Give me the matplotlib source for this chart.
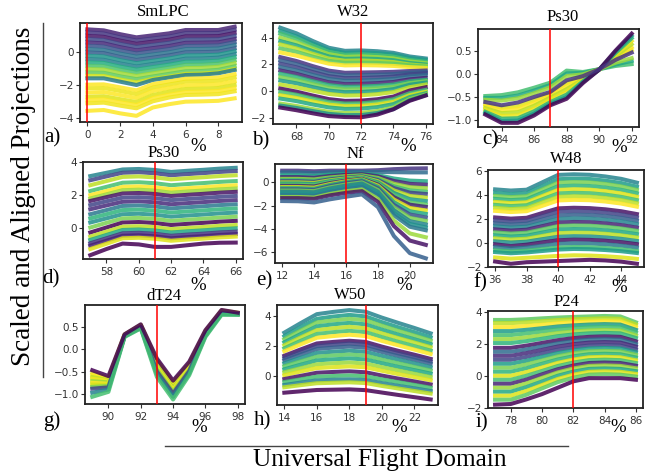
import matplotlib
matplotlib.use("Agg")
import matplotlib.pyplot as plt

# ---------------- data ----------------
X_A = [0, 1, 2, 3, 4, 5, 6, 7, 8, 9]
LINES_A = [
    [1.34, 1.28, 1.05, 0.86, 0.98, 1.10, 1.30, 1.30, 1.30, 1.50],
    [1.15, 1.09, 0.86, 0.67, 0.79, 0.91, 1.11, 1.11, 1.12, 1.31],
    [0.95, 0.89, 0.66, 0.47, 0.60, 0.72, 0.92, 0.92, 0.93, 1.12],
    [0.75, 0.69, 0.46, 0.28, 0.40, 0.53, 0.72, 0.73, 0.74, 0.93],
    [0.55, 0.50, 0.27, 0.08, 0.21, 0.34, 0.53, 0.54, 0.56, 0.75],
    [0.35, 0.30, 0.07, -0.11, 0.02, 0.15, 0.34, 0.35, 0.37, 0.57],
    [0.15, 0.10, -0.12, -0.30, -0.17, -0.04, 0.15, 0.16, 0.19, 0.39],
    [-0.05, -0.09, -0.32, -0.50, -0.36, -0.22, -0.04, -0.03, 0.00, 0.20],
    [-0.25, -0.29, -0.51, -0.69, -0.55, -0.41, -0.23, -0.22, -0.18, 0.02],
    [-0.45, -0.49, -0.71, -0.89, -0.74, -0.60, -0.42, -0.41, -0.36, -0.16],
    [-0.65, -0.68, -0.90, -1.08, -0.93, -0.78, -0.61, -0.60, -0.55, -0.34],
    [-0.85, -0.88, -1.10, -1.27, -1.12, -0.97, -0.80, -0.79, -0.73, -0.52],
    [-1.05, -1.07, -1.29, -1.46, -1.30, -1.15, -0.99, -0.97, -0.91, -0.70],
    [-1.25, -1.27, -1.48, -1.65, -1.49, -1.33, -1.18, -1.16, -1.09, -0.88],
    [-1.45, -1.46, -1.67, -1.84, -1.63, -1.49, -1.33, -1.31, -1.24, -1.03],
    [-1.60, -1.60, -1.80, -2.00, -1.70, -1.55, -1.40, -1.38, -1.30, -1.10],
    [-1.98, -1.96, -2.14, -2.32, -1.95, -1.78, -1.62, -1.60, -1.55, -1.35],
    [-2.20, -2.18, -2.36, -2.55, -2.15, -1.97, -1.80, -1.78, -1.75, -1.55],
    [-2.45, -2.42, -2.60, -2.78, -2.36, -2.18, -2.02, -2.00, -1.97, -1.78],
    [-2.70, -2.67, -2.85, -3.02, -2.60, -2.40, -2.24, -2.22, -2.18, -2.00],
    [-2.90, -2.86, -3.04, -3.20, -2.78, -2.58, -2.42, -2.40, -2.36, -2.20],
    [-3.10, -3.06, -3.24, -3.40, -2.98, -2.75, -2.60, -2.58, -2.55, -2.38],
    [-3.55, -3.50, -3.70, -3.85, -3.35, -3.15, -3.00, -2.98, -2.95, -2.80],
]
COLORS_A = [0.10, 0.16, 0.06, 0.22, 0.12, 0.26, 0.38, 0.30, 0.52, 0.44, 0.62, 0.72,
            0.86, 0.76, 0.93, 0.42, 1.0, 0.97, 1.0, 0.95, 1.0, 0.98, 1.0]

X_B = [67, 68, 69, 70, 71, 72, 73, 74, 75, 76]
LINES_B = [
    [4.75, 4.33, 3.76, 3.25, 3.02, 3.05, 2.99, 2.87, 2.60, 2.45],
    [4.50, 4.10, 3.57, 3.09, 2.87, 2.90, 2.85, 2.74, 2.49, 2.35],
    [4.30, 3.91, 3.40, 2.94, 2.72, 2.75, 2.70, 2.59, 2.34, 2.20],
    [4.00, 3.65, 3.19, 2.77, 2.57, 2.60, 2.55, 2.45, 2.23, 2.10],
    [3.75, 3.43, 3.00, 2.61, 2.42, 2.45, 2.41, 2.32, 2.11, 2.00],
    [3.50, 3.20, 2.80, 2.44, 2.28, 2.30, 2.26, 2.18, 2.00, 1.90],
    [3.20, 2.94, 2.59, 2.28, 2.13, 2.15, 2.12, 2.06, 1.93, 1.85],
    [2.90, 2.66, 2.35, 2.06, 1.93, 1.95, 1.93, 1.89, 1.80, 1.75],
    [2.55, 2.26, 1.88, 1.54, 1.38, 1.40, 1.42, 1.45, 1.51, 1.55],
    [2.30, 2.03, 1.66, 1.33, 1.18, 1.20, 1.23, 1.28, 1.39, 1.45],
    [2.05, 1.79, 1.44, 1.13, 0.98, 1.00, 1.04, 1.11, 1.26, 1.35],
    [1.80, 1.55, 1.22, 0.92, 0.78, 0.80, 0.84, 0.92, 1.10, 1.20],
    [1.55, 1.30, 0.97, 0.67, 0.53, 0.55, 0.60, 0.69, 0.89, 1.00],
    [1.30, 1.06, 0.75, 0.46, 0.33, 0.35, 0.40, 0.50, 0.73, 0.85],
    [1.05, 0.83, 0.53, 0.26, 0.13, 0.15, 0.21, 0.33, 0.60, 0.75],
    [0.80, 0.59, 0.31, 0.05, -0.07, -0.05, 0.02, 0.16, 0.48, 0.65],
    [0.50, 0.30, 0.04, -0.20, -0.32, -0.30, -0.22, -0.06, 0.30, 0.50],
    [0.20, -0.03, -0.32, -0.59, -0.72, -0.70, -0.60, -0.40, 0.05, 0.30],
    [-0.05, -0.26, -0.54, -0.80, -0.92, -0.90, -0.80, -0.60, -0.15, 0.10],
    [-0.30, -0.50, -0.76, -1.00, -1.12, -1.10, -0.99, -0.79, -0.31, -0.05],
    [-0.55, -0.74, -0.99, -1.21, -1.32, -1.30, -1.19, -0.96, -0.44, -0.15],
    [-0.92, -1.10, -1.33, -1.54, -1.63, -1.62, -1.48, -1.21, -0.59, -0.25],
    [-1.07, -1.25, -1.48, -1.69, -1.79, -1.78, -1.63, -1.34, -0.67, -0.30],
    [-1.22, -1.42, -1.65, -1.86, -1.93, -1.95, -1.75, -1.35, -0.72, -0.32],
]
COLORS_B = [0.45, 0.55, 0.70, 0.85, 0.60, 0.90, 0.75, 1.00, 0.15, 0.30, 0.20, 0.35,
            0.10, 0.65, 0.80, 0.55, 0.90, 0.02, 0.70, 0.95, 0.60, 0.85, 0.50, 0.00]

X_C = [83, 84, 85, 86, 87, 88, 89, 90, 91, 92]
LINES_C = [
    [-0.48, -0.46, -0.40, -0.30, -0.19, 0.07, 0.04, 0.10, 0.17, 0.21],
    [-0.52, -0.52, -0.47, -0.36, -0.24, 0.01, 0.02, 0.10, 0.20, 0.28],
    [-0.56, -0.58, -0.53, -0.42, -0.29, -0.05, -0.01, 0.10, 0.24, 0.34],
    [-0.66, -0.73, -0.70, -0.57, -0.41, -0.20, -0.07, 0.10, 0.32, 0.51],
    [-0.70, -0.79, -0.76, -0.63, -0.46, -0.27, -0.09, 0.09, 0.35, 0.57],
    [-0.74, -0.85, -0.83, -0.69, -0.51, -0.33, -0.12, 0.09, 0.38, 0.64],
    [-0.78, -0.91, -0.90, -0.75, -0.56, -0.39, -0.14, 0.09, 0.42, 0.71],
    [-0.82, -0.97, -0.96, -0.81, -0.61, -0.45, -0.16, 0.09, 0.45, 0.77],
    [-0.85, -1.02, -1.01, -0.86, -0.65, -0.50, -0.18, 0.09, 0.48, 0.82],
    [-0.88, -1.06, -1.06, -0.90, -0.68, -0.54, -0.20, 0.09, 0.50, 0.87],
    [-0.61, -0.68, -0.62, -0.50, -0.39, -0.14, -0.05, 0.10, 0.30, 0.46],
]
COLORS_C = [0.70, 0.60, 0.85, 0.95, 1.00, 0.90, 0.97, 0.65, 0.55, 0.00, 0.15]

X_D = [57, 58, 59, 60, 61, 62, 63, 64, 65, 66]
LINES_D = [
    [3.15, 3.35, 3.55, 3.58, 3.52, 3.40, 3.47, 3.53, 3.60, 3.65],
    [2.90, 3.13, 3.35, 3.38, 3.32, 3.20, 3.27, 3.33, 3.40, 3.45],
    [2.60, 2.85, 3.10, 3.13, 3.07, 2.95, 3.02, 3.08, 3.15, 3.20],
    [2.25, 2.50, 2.75, 2.78, 2.72, 2.60, 2.67, 2.73, 2.80, 2.85],
    [2.00, 2.25, 2.50, 2.53, 2.47, 2.35, 2.42, 2.48, 2.55, 2.60],
    [1.80, 2.05, 2.30, 2.33, 2.27, 2.15, 2.22, 2.28, 2.35, 2.40],
    [1.65, 1.88, 2.10, 2.13, 2.07, 1.95, 2.02, 2.08, 2.15, 2.20],
    [1.40, 1.63, 1.85, 1.88, 1.82, 1.70, 1.77, 1.83, 1.90, 1.95],
    [1.15, 1.38, 1.60, 1.63, 1.57, 1.45, 1.52, 1.58, 1.65, 1.70],
    [0.85, 1.10, 1.35, 1.38, 1.32, 1.20, 1.27, 1.33, 1.40, 1.45],
    [0.60, 0.85, 1.10, 1.13, 1.07, 0.95, 1.02, 1.08, 1.15, 1.20],
    [0.35, 0.60, 0.85, 0.88, 0.82, 0.70, 0.77, 0.83, 0.90, 0.95],
    [0.05, 0.33, 0.60, 0.63, 0.57, 0.45, 0.52, 0.58, 0.65, 0.70],
    [-0.25, 0.05, 0.35, 0.38, 0.32, 0.20, 0.27, 0.33, 0.40, 0.45],
    [-0.50, -0.20, 0.10, 0.13, 0.07, -0.05, 0.02, 0.08, 0.15, 0.20],
    [-0.70, -0.40, -0.10, -0.07, -0.13, -0.25, -0.18, -0.12, -0.05, 0.00],
    [-0.90, -0.60, -0.30, -0.27, -0.33, -0.45, -0.38, -0.32, -0.25, -0.20],
    [-1.05, -0.75, -0.45, -0.42, -0.48, -0.60, -0.53, -0.47, -0.40, -0.35],
    [-1.25, -0.93, -0.60, -0.57, -0.63, -0.75, -0.68, -0.62, -0.55, -0.50],
    [-1.62, -1.25, -0.92, -0.97, -1.12, -1.12, -1.02, -0.92, -0.87, -0.86],
]
COLORS_D = [0.45, 0.20, 0.90, 0.70, 1.00, 0.85, 0.05, 0.20, 0.12, 0.40, 0.65, 0.50,
            0.80, 0.00, 0.90, 0.60, 0.15, 0.10, 0.95, 0.00]

X_E = [12, 13, 14, 15, 16, 17, 18, 19, 20, 21]
LINES_E = [
    [1.00, 1.00, 0.95, 1.00, 1.00, 1.00, 1.04, 1.13, 1.18, 1.20],
    [0.85, 0.85, 0.80, 0.87, 0.89, 0.90, 0.89, 0.87, 0.85, 0.85],
    [0.60, 0.60, 0.55, 0.66, 0.71, 0.75, 0.62, 0.33, 0.15, 0.10],
    [0.45, 0.45, 0.40, 0.55, 0.64, 0.70, 0.52, 0.12, -0.13, -0.20],
    [0.30, 0.30, 0.25, 0.42, 0.53, 0.60, 0.38, -0.12, -0.41, -0.50],
    [0.20, 0.20, 0.15, 0.34, 0.46, 0.55, 0.28, -0.33, -0.69, -0.80],
    [0.10, 0.10, 0.05, 0.26, 0.40, 0.50, 0.20, -0.48, -0.88, -1.00],
    [0.00, 0.00, -0.05, 0.18, 0.34, 0.45, 0.10, -0.69, -1.16, -1.30],
    [-0.10, -0.10, -0.15, 0.10, 0.28, 0.40, 0.00, -0.90, -1.44, -1.60],
    [-0.20, -0.20, -0.25, 0.02, 0.21, 0.35, -0.10, -1.11, -1.72, -1.90],
    [-0.30, -0.30, -0.35, -0.06, 0.15, 0.30, -0.18, -1.26, -1.91, -2.10],
    [-0.40, -0.40, -0.45, -0.14, 0.09, 0.25, -0.28, -1.47, -2.19, -2.40],
    [-0.50, -0.50, -0.55, -0.22, 0.03, 0.20, -0.38, -1.69, -2.47, -2.70],
    [-0.60, -0.60, -0.65, -0.32, -0.08, 0.10, -0.52, -1.92, -2.75, -3.00],
    [-0.70, -0.70, -0.75, -0.42, -0.18, 0.00, -0.66, -2.15, -3.04, -3.30],
    [-0.80, -0.80, -0.85, -0.52, -0.28, -0.10, -0.80, -2.38, -3.32, -3.60],
    [-0.95, -0.95, -1.00, -0.67, -0.43, -0.25, -0.97, -2.59, -3.56, -3.85],
    [-1.10, -1.10, -1.15, -0.82, -0.58, -0.40, -1.14, -2.81, -3.80, -4.10],
    [-1.25, -1.25, -1.30, -0.99, -0.76, -0.60, -1.42, -3.27, -4.37, -4.70],
    [-1.35, -1.35, -1.40, -1.11, -0.90, -0.75, -1.67, -3.74, -4.98, -5.35],
    [-1.60, -1.62, -1.72, -1.45, -1.23, -1.03, -2.12, -4.59, -6.06, -6.50],
]
COLORS_E = [0.15, 0.35, 0.60, 0.10, 0.85, 0.70, 0.20, 0.90, 0.55, 0.75, 0.10, 0.95,
            0.60, 0.25, 0.80, 0.45, 0.50, 0.40, 0.85, 0.05, 0.30]

X_F = [36, 37, 38, 39, 40, 41, 42, 43, 44, 45]
LINES_F = [
    [4.50, 4.40, 4.47, 5.09, 5.71, 5.76, 5.72, 5.58, 5.38, 5.06],
    [4.20, 4.10, 4.17, 4.76, 5.35, 5.40, 5.37, 5.23, 5.03, 4.72],
    [3.95, 3.85, 3.92, 4.49, 5.06, 5.11, 5.08, 4.95, 4.75, 4.45],
    [3.70, 3.60, 3.67, 4.22, 4.76, 4.81, 4.78, 4.65, 4.46, 4.17],
    [3.45, 3.35, 3.42, 3.94, 4.46, 4.51, 4.48, 4.35, 4.16, 3.88],
    [3.20, 3.10, 3.17, 3.67, 4.16, 4.21, 4.18, 4.06, 3.87, 3.60],
    [2.95, 2.85, 2.92, 3.40, 3.87, 3.92, 3.89, 3.77, 3.60, 3.33],
    [2.70, 2.60, 2.67, 3.12, 3.57, 3.62, 3.59, 3.48, 3.31, 3.05],
    [2.15, 2.05, 2.12, 2.52, 2.91, 2.96, 2.93, 2.83, 2.67, 2.43],
    [1.90, 1.80, 1.87, 2.25, 2.62, 2.67, 2.64, 2.54, 2.38, 2.15],
    [1.65, 1.55, 1.62, 1.97, 2.32, 2.37, 2.35, 2.25, 2.10, 1.87],
    [1.40, 1.30, 1.37, 1.70, 2.02, 2.07, 2.05, 1.95, 1.81, 1.59],
    [1.15, 1.05, 1.12, 1.42, 1.72, 1.77, 1.75, 1.65, 1.51, 1.30],
    [0.90, 0.80, 0.87, 1.15, 1.43, 1.48, 1.46, 1.37, 1.23, 1.03],
    [0.65, 0.55, 0.62, 0.88, 1.13, 1.18, 1.16, 1.07, 0.94, 0.75],
    [0.40, 0.30, 0.37, 0.60, 0.83, 0.88, 0.86, 0.78, 0.65, 0.47],
    [0.15, 0.05, 0.12, 0.33, 0.53, 0.58, 0.56, 0.48, 0.36, 0.18],
    [-0.10, -0.25, -0.13, 0.06, 0.24, 0.29, 0.27, 0.20, 0.08, -0.09],
    [-0.35, -0.45, -0.38, -0.22, -0.06, -0.01, -0.03, -0.10, -0.21, -0.37],
    [-0.60, -0.70, -0.63, -0.50, -0.37, -0.32, -0.34, -0.41, -0.51, -0.67],
    [-0.75, -0.85, -0.78, -0.66, -0.54, -0.49, -0.51, -0.58, -0.68, -0.83],
    [-1.20, -1.30, -1.23, -1.15, -1.07, -1.02, -1.04, -1.10, -1.19, -1.32],
    [-1.54, -1.73, -1.60, -1.55, -1.50, -1.45, -1.40, -1.45, -1.55, -1.73],
]
COLORS_F = [0.45, 0.55, 0.80, 0.65, 0.95, 0.70, 0.90, 1.00, 0.05, 0.20, 0.30, 0.45,
            0.10, 0.75, 0.60, 0.90, 0.50, 0.05, 0.40, 0.70, 0.55, 0.95, 0.00]

X_G = [89, 90, 91, 92, 93, 94, 95, 96, 97, 98]
LINES_G = [
    [-0.53, -0.64, 0.32, 0.54, -0.25, -0.74, -0.31, 0.40, 0.86, 0.81],
    [-0.58, -0.66, 0.32, 0.53, -0.28, -0.78, -0.33, 0.39, 0.85, 0.80],
    [-0.62, -0.69, 0.32, 0.53, -0.31, -0.81, -0.36, 0.38, 0.84, 0.80],
    [-0.66, -0.71, 0.31, 0.52, -0.34, -0.83, -0.38, 0.37, 0.83, 0.79],
    [-0.71, -0.74, 0.31, 0.51, -0.37, -0.87, -0.40, 0.36, 0.83, 0.79],
    [-0.75, -0.77, 0.30, 0.51, -0.41, -0.90, -0.42, 0.35, 0.82, 0.79],
    [-0.79, -0.79, 0.30, 0.50, -0.44, -0.93, -0.45, 0.34, 0.81, 0.78],
    [-0.84, -0.82, 0.29, 0.49, -0.46, -0.96, -0.47, 0.33, 0.80, 0.78],
    [-0.88, -0.85, 0.29, 0.49, -0.50, -0.99, -0.49, 0.32, 0.79, 0.78],
    [-0.97, -0.90, 0.28, 0.47, -0.56, -1.06, -0.54, 0.29, 0.78, 0.77],
    [-1.06, -0.95, 0.27, 0.46, -0.62, -1.12, -0.58, 0.27, 0.76, 0.76],
    [-0.47, -0.60, 0.33, 0.55, -0.21, -0.70, -0.28, 0.42, 0.87, 0.81],
]
COLORS_G = [0.95, 1.00, 0.90, 0.98, 0.85, 1.00, 0.93, 0.80, 0.20, 0.45, 0.70, 0.00]

X_H = [14, 15, 16, 17, 18, 19, 20, 21, 22, 23]
LINES_H = [
    [2.89, 3.52, 4.12, 4.27, 4.39, 4.28, 3.89, 3.54, 3.20, 2.84],
    [2.65, 3.25, 3.81, 3.96, 4.07, 3.97, 3.59, 3.25, 2.92, 2.58],
    [2.45, 3.02, 3.57, 3.70, 3.81, 3.71, 3.35, 3.01, 2.69, 2.36],
    [2.25, 2.79, 3.31, 3.44, 3.54, 3.44, 3.09, 2.76, 2.45, 2.13],
    [2.05, 2.57, 3.06, 3.18, 3.28, 3.18, 2.84, 2.53, 2.23, 1.92],
    [1.85, 2.34, 2.80, 2.92, 3.01, 2.92, 2.59, 2.28, 1.99, 1.69],
    [1.65, 2.11, 2.55, 2.66, 2.75, 2.66, 2.34, 2.05, 1.76, 1.47],
    [1.35, 1.77, 2.17, 2.27, 2.35, 2.27, 1.96, 1.68, 1.42, 1.14],
    [1.20, 1.60, 1.99, 2.08, 2.16, 2.08, 1.78, 1.51, 1.25, 0.98],
    [1.05, 1.43, 1.80, 1.89, 1.96, 1.88, 1.60, 1.33, 1.08, 0.82],
    [0.85, 1.20, 1.54, 1.62, 1.69, 1.61, 1.34, 1.09, 0.84, 0.59],
    [0.65, 0.98, 1.29, 1.37, 1.43, 1.36, 1.09, 0.85, 0.61, 0.37],
    [0.45, 0.75, 1.04, 1.11, 1.17, 1.10, 0.85, 0.61, 0.39, 0.16],
    [0.25, 0.52, 0.78, 0.85, 0.90, 0.83, 0.59, 0.37, 0.15, -0.07],
    [0.05, 0.30, 0.53, 0.59, 0.64, 0.58, 0.35, 0.13, -0.07, -0.28],
    [-0.20, 0.01, 0.22, 0.27, 0.31, 0.25, 0.03, -0.17, -0.36, -0.56],
    [-0.40, -0.22, -0.04, 0.00, 0.04, -0.02, -0.22, -0.41, -0.59, -0.78],
    [-0.60, -0.44, -0.29, -0.25, -0.22, -0.27, -0.47, -0.65, -0.82, -1.00],
    [-0.75, -0.61, -0.48, -0.45, -0.42, -0.47, -0.66, -0.83, -1.00, -1.17],
    [-1.11, -1.02, -0.93, -0.91, -0.89, -0.94, -1.10, -1.26, -1.41, -1.56],
]
COLORS_H = [0.45, 0.55, 0.80, 0.60, 0.90, 0.70, 1.00, 0.05, 0.20, 0.30, 0.50, 0.75,
            0.60, 0.85, 0.95, 0.05, 0.70, 0.45, 0.90, 0.00]

X_I = [77, 78, 79, 80, 81, 82, 83, 84, 85, 86]
LINES_I = [
    [3.50, 3.50, 3.54, 3.60, 3.65, 3.69, 3.72, 3.75, 3.72, 3.35],
    [3.30, 3.30, 3.35, 3.42, 3.49, 3.54, 3.57, 3.60, 3.57, 3.21],
    [3.05, 3.05, 3.12, 3.20, 3.29, 3.35, 3.39, 3.42, 3.39, 3.05],
    [2.80, 2.80, 2.88, 2.98, 3.09, 3.16, 3.21, 3.24, 3.21, 2.88],
    [2.55, 2.55, 2.65, 2.77, 2.89, 2.97, 3.03, 3.06, 3.03, 2.71],
    [2.30, 2.30, 2.41, 2.54, 2.68, 2.78, 2.84, 2.87, 2.84, 2.53],
    [2.05, 2.05, 2.17, 2.32, 2.48, 2.59, 2.66, 2.69, 2.66, 2.37],
    [1.75, 1.75, 1.89, 2.06, 2.23, 2.36, 2.44, 2.47, 2.44, 2.16],
    [1.50, 1.50, 1.65, 1.84, 2.03, 2.17, 2.26, 2.29, 2.26, 1.99],
    [1.25, 1.25, 1.42, 1.62, 1.83, 1.98, 2.08, 2.11, 2.08, 1.83],
    [1.00, 1.00, 1.18, 1.40, 1.62, 1.78, 1.89, 1.92, 1.89, 1.65],
    [0.75, 0.75, 0.94, 1.18, 1.42, 1.59, 1.71, 1.74, 1.71, 1.48],
    [0.50, 0.50, 0.71, 0.96, 1.22, 1.41, 1.53, 1.56, 1.53, 1.31],
    [0.25, 0.25, 0.47, 0.75, 1.02, 1.22, 1.35, 1.38, 1.35, 1.15],
    [0.00, 0.00, 0.23, 0.52, 0.81, 1.02, 1.16, 1.19, 1.16, 0.97],
    [-0.25, -0.25, 0.00, 0.30, 0.61, 0.83, 0.98, 1.01, 0.98, 0.80],
    [-0.50, -0.50, -0.24, 0.09, 0.41, 0.64, 0.80, 0.83, 0.80, 0.63],
    [-0.75, -0.75, -0.48, -0.13, 0.21, 0.46, 0.62, 0.65, 0.62, 0.47],
    [-1.00, -1.00, -0.71, -0.36, 0.00, 0.26, 0.43, 0.46, 0.43, 0.29],
    [-1.25, -1.25, -0.95, -0.58, -0.20, 0.07, 0.25, 0.28, 0.25, 0.12],
    [-1.50, -1.50, -1.19, -0.79, -0.40, -0.12, 0.07, 0.10, 0.07, -0.05],
    [-1.81, -1.77, -1.48, -1.15, -0.75, -0.35, -0.15, -0.15, -0.15, -0.25],
]
COLORS_I = [0.75, 0.90, 1.00, 0.55, 0.70, 0.85, 0.65, 0.05, 0.35, 0.12, 0.20, 0.55,
            0.80, 0.65, 0.95, 0.70, 0.10, 0.85, 0.60, 0.95, 0.75, 0.00]

TITLES = ["SmLPC", "W32", "Ps30", "Ps30", "Nf", "W48", "dT24", "W50", "P24"]
LETTERS = ["a)", "b)", "c)", "d)", "e)", "f)", "g)", "h)", "i)"]
RED_X = [0, 72, 87, 61, 16, 40, 93, 19, 82]
XTICKS = [[0, 2, 4, 6, 8], [68, 70, 72, 74, 76], [84, 86, 88, 90, 92],
          [58, 60, 62, 64, 66], [12, 14, 16, 18, 20], [36, 38, 40, 42, 44],
          [90, 92, 94, 96, 98], [14, 16, 18, 20, 22], [78, 80, 82, 84, 86]]
YTICKS = [[-4, -2, 0], [-2, 0, 2, 4], [-1.0, -0.5, 0.0, 0.5], [0, 2, 4],
          [-6, -4, -2, 0], [-2, 0, 2, 4, 6], [-1.0, -0.5, 0.0, 0.5], [0, 2, 4],
          [-2, 0, 2, 4]]

# ---------------- layout (pixels) ----------------
W, H = 651, 472
BOXES = [(80, 23, 242, 122), (273, 23, 433, 124), (478, 29, 639, 127),
         (83, 162, 243, 259), (275, 164, 433, 263), (488, 170, 644, 267),
         (85, 305, 245, 404), (277, 305, 438, 405), (488, 311, 643, 408)]
YLIMS = [(-4.22, 1.72), (-2.45, 5.1), (-1.15, 0.97), (-1.85, 3.98), (-6.9, 1.57),
         (-2.0, 6.12), (-1.22, 0.98), (-1.93, 4.73), (-2.02, 4.06)]
TITLE_XY = [(163, 12), (353, 12), (563, 17), (164, 153), (355, 154), (566, 159),
            (164, 296), (350, 295), (566, 302)]
LETTER_XY = [(52, 138), (261, 141), (490, 140), (51, 279), (264, 281), (480, 283),
             (52, 421), (262, 421), (482, 423)]
PCT_XY = [(198, 146), (408, 146), (619, 147), (198, 285), (404, 286), (619, 287),
          (199, 427), (399, 427), (618, 427)]

XS = [X_A, X_B, X_C, X_D, X_E, X_F, X_G, X_H, X_I]
LINES = [LINES_A, LINES_B, LINES_C, LINES_D, LINES_E, LINES_F, LINES_G, LINES_H, LINES_I]
COLORS = [COLORS_A, COLORS_B, COLORS_C, COLORS_D, COLORS_E, COLORS_F, COLORS_G,
          COLORS_H, COLORS_I]

SERIF = "Liberation Serif"
cmap = matplotlib.colormaps["viridis"]
fig = plt.figure(figsize=(W / 100, H / 100), dpi=100)


def fx(x):
    return x / W


def fy(y):
    return 1 - y / H


for k in range(9):
    l, t, r, b = BOXES[k]
    ax = fig.add_axes([fx(l), fy(b), (r - l) / W, (b - t) / H])
    xs = XS[k]
    for ys, c in zip(LINES[k], COLORS[k]):
        ax.plot(xs, ys, color=cmap(c), lw=2.9, alpha=0.85, solid_joinstyle="round")
    ax.axvline(RED_X[k], color="red", lw=1.1, zorder=5)
    ax.set_xlim(xs[0] - 0.45, xs[-1] + 0.45)
    ax.set_ylim(*YLIMS[k])
    ax.set_xticks(XTICKS[k])
    ax.set_yticks(YTICKS[k])
    ax.tick_params(axis="both", labelsize=7.5, length=3, width=0.8,
                   colors="#333333")
    ax.tick_params(axis="x", pad=3)
    ax.tick_params(axis="y", pad=1.5)
    for s in ax.spines.values():
        s.set_linewidth(1.3)
        s.set_color("#222222")
    fig.text(fx(TITLE_XY[k][0]), fy(TITLE_XY[k][1]), TITLES[k], family=SERIF,
             fontsize=12, ha="center", va="center")
    fig.text(fx(LETTER_XY[k][0]), fy(LETTER_XY[k][1]), LETTERS[k], family=SERIF,
             fontsize=15, ha="center", va="center")
    fig.text(fx(PCT_XY[k][0]), fy(PCT_XY[k][1]), "%", family=SERIF,
             fontsize=13.5, ha="center", va="center")

# global labels and rules
fig.text(fx(24), fy(196), "Scaled and Aligned Projections", family=SERIF,
         fontsize=19.5, rotation=90, ha="center", va="center")
fig.text(fx(380), fy(460), "Universal Flight Domain", family=SERIF,
         fontsize=18.3, ha="center", va="center")
fig.add_artist(plt.Line2D([fx(43), fx(43)], [fy(23), fy(377)], color="#444444", lw=1.0))
fig.add_artist(plt.Line2D([fx(165), fx(568)], [fy(446), fy(446)], color="#444444", lw=1.0))

fig.savefig("out.png", dpi=100)
